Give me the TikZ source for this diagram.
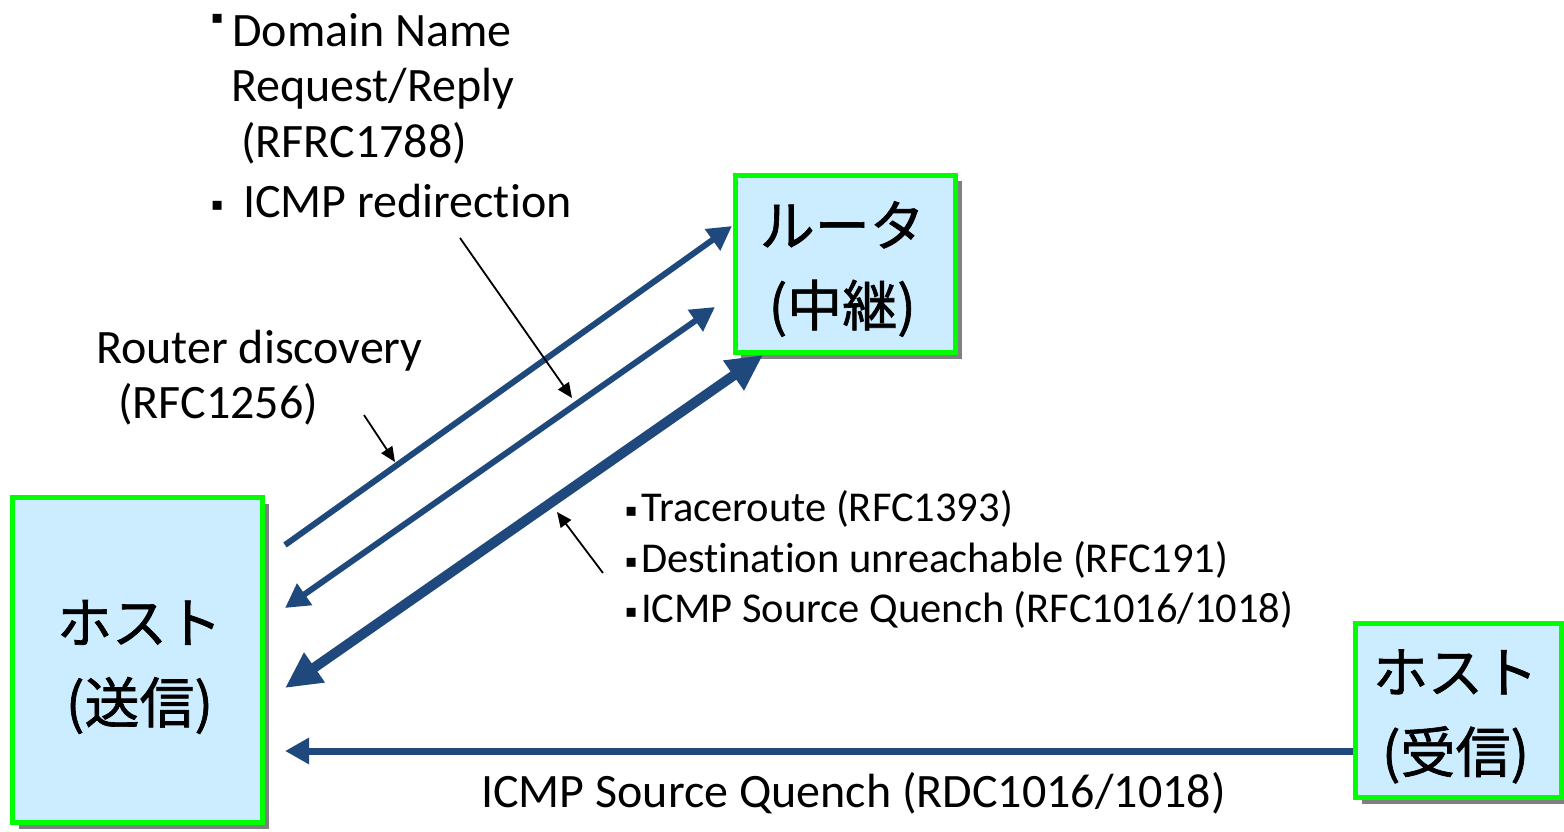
\documentclass[tikz,border=0pt]{standalone}
\usepackage{fontspec}
\setmainfont{Carlito}[RawFeature={-liga}]
\newfontfamily\jpfont{Noto Sans CJK JP}[FakeBold=1.2]
\newfontfamily\symfont{DejaVu Sans}
\usetikzlibrary{arrows.meta,shadows}

\definecolor{linkblue}{HTML}{1F497D}
\definecolor{boxfill}{HTML}{CCECFF}
\definecolor{boxline}{HTML}{00FF00}
\definecolor{shadowgray}{HTML}{808080}

% small square list marker, raised by #1
\newcommand{\sqmark}[1]{\raisebox{#1}{\symfont\fontsize{18pt}{18pt}\selectfont ▪}}

\tikzset{
  devbox/.style={draw=boxline, line width=5pt, fill=boxfill, inner sep=0pt,
    general shadow={fill=shadowgray, shadow xshift=6pt, shadow yshift=-6pt}},
  devtext/.style={inner sep=0pt, align=center,
    font=\jpfont\fontsize{55pt}{80pt}\selectfont},
  label/.style={anchor=base west, inner sep=0pt, font=\fontsize{48pt}{56pt}\selectfont},
  listlabel/.style={anchor=base west, inner sep=0pt, font=\fontsize{42.5pt}{50pt}\selectfont},
  msg/.style={draw=linkblue, line width=6pt,
    arrows={-Triangle[length=24pt,width=25pt]}},
  msgboth/.style={msg, arrows={Triangle[length=24pt,width=25pt]-Triangle[length=24pt,width=25pt]}},
  msgheavy/.style={draw=linkblue, line width=10pt,
    arrows={Triangle[length=36pt,width=34pt]-Triangle[length=36pt,width=34pt]}},
  callout/.style={draw=black, line width=1.8pt,
    arrows={-Triangle[length=15pt,width=13pt]}},
}

\begin{document}
\begin{tikzpicture}[x=1pt, y=-1pt]
\useasboundingbox (0,0) rectangle (1564,832);

% devices
\node[devbox, minimum width=250pt, minimum height=325pt] (sender) at (137.5,660) {};
\node[devbox, minimum width=220.5pt, minimum height=177pt] (router) at (845.25,264) {};
\node[devbox, minimum width=206pt, minimum height=174pt] (receiver) at (1458.5,710.5) {};

\node[devtext] (sendertext) at ([xshift=2pt,yshift=-7pt]sender.center) {ホスト\\(送信)};
\node[devtext] (routertext) at ([xshift=-3pt,yshift=-5pt]router.center) {ルータ\\(中継)};
\node[devtext] (receivertext) at ([xshift=-3pt,yshift=-6pt]receiver.center) {ホスト\\(受信)};

% arrow end points
\coordinate (a1s) at (285,545);
\coordinate (a1e) at (732,226);
\coordinate (a2s) at (715,307);
\coordinate (a2e) at (285,608);
\coordinate (a3s) at (763,355);
\coordinate (a3e) at (285,688);
\coordinate (a4s) at (receiver.west |- 0,751);
\coordinate (a4e) at (285,751);

\draw[msg] (a1s) -- (a1e);
\draw[msgboth] (a2s) -- (a2e);
\draw[msgheavy] (a3s) -- (a3e);
\draw[msg, line width=7pt] (a4s) -- (a4e);

% labels
\node[label] (dn1) at (211,47) {\makebox[21pt][l]{\sqmark{23pt}}Domain Name};
\node[label] (dn2) at (231,102) {Request/Reply};
\node[label] (dn3) at (241,158) {(RFRC1788)};
\node[label] (redir) at (211,217) {\makebox[21pt][l]{\sqmark{7pt}}\ ICMP redirection};

\node[label] (rd1) at (96,363) {Router discovery};
\node[label] (rd2) at (118,418) {(RFC1256)};

\node[listlabel] (tr) at (625,521) {\makebox[16pt][l]{\sqmark{5pt}}Traceroute (RFC1393)};
\node[listlabel] (du) at (625,572) {\makebox[16pt][l]{\sqmark{5pt}}Destination unreachable (RFC191)};
\node[listlabel] (sq) at (625,622) {\makebox[16pt][l]{\sqmark{5pt}}ICMP Source Quench (RFC1016/1018)};

\node[label] (sqr) at (481,807) {ICMP Source Quench (RDC1016/1018)};

% callout pointers
\coordinate (c1s) at (364,415);
\coordinate (c1e) at (395,462);
\coordinate (c2s) at (460,238);
\coordinate (c2e) at (572,398);
\coordinate (c3s) at (603,573);
\coordinate (c3e) at (557,512);
\draw[callout] (c1s) -- (c1e);
\draw[callout] (c2s) -- (c2e);
\draw[callout] (c3s) -- (c3e);
\end{tikzpicture}
\end{document}
